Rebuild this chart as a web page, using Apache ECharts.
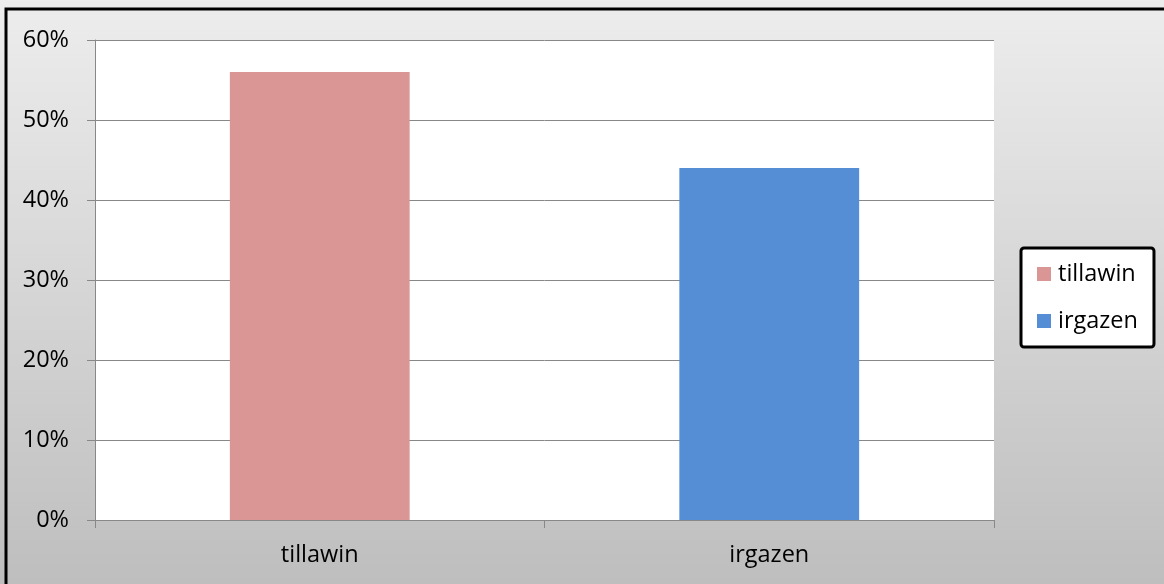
<!DOCTYPE html>
<html>
<head>
<meta charset="utf-8">
<script src="https://cdn.jsdelivr.net/npm/echarts@6/dist/echarts.min.js"></script>
<style>html,body{margin:0;padding:0;}#c{width:1164px;height:584px;}</style>
</head>
<body>
<div id="c"></div>
<script>
const categories = ['tillawin', 'irgazen'];
const seriesNames = ['tillawin', 'irgazen'];
const tillawinValues = [56, '-'];
const irgazenValues = ['-', 44];
const yTicks = { min: 0, max: 60, interval: 10 };

const chart = echarts.init(document.getElementById('c'));
const font = 'Open Sans';
const fs = 23.5;
chart.setOption({
  backgroundColor: {
    type: 'linear', x: 0, y: 0, x2: 0, y2: 1,
    colorStops: [{ offset: 0, color: '#ededed' }, { offset: 1, color: '#bebebe' }]
  },
  animation: false,
  graphic: [{
    type: 'rect', shape: { x: 6, y: 9, width: 1300, height: 800 },
    style: { fill: 'none', stroke: '#000', lineWidth: 3 }, z: 100
  }],
  grid: { left: 95, right: 170, top: 40, bottom: 64, backgroundColor: '#fff', show: true, borderWidth: 0 },
  legend: {
    orient: 'vertical', left: 1021, top: 248,
    data: seriesNames,
    backgroundColor: '#fff', borderColor: '#000', borderWidth: 3, borderRadius: 3,
    padding: [14, 16], itemGap: 23, itemWidth: 14, itemHeight: 14,
    icon: 'rect', itemStyle: { borderWidth: 0 },
    textStyle: { fontFamily: font, fontSize: fs, color: '#000', padding: [0, 0, 0, 2] }
  },
  xAxis: {
    type: 'category', data: categories,
    axisLine: { lineStyle: { color: '#888', width: 1 } },
    axisTick: { show: true, length: 8, lineStyle: { color: '#888' }, alignWithLabel: false },
    axisLabel: { fontFamily: font, fontSize: fs, color: '#000', margin: 23 }
  },
  yAxis: {
    type: 'value', min: yTicks.min, max: yTicks.max, interval: yTicks.interval,
    axisLine: { show: true, lineStyle: { color: '#888', width: 1 } },
    axisTick: { show: true, length: 8, lineStyle: { color: '#888' } },
    splitLine: { lineStyle: { color: '#888', width: 1 } },
    axisLabel: { formatter: '{value}%', fontFamily: font, fontSize: fs, color: '#000', margin: 26 }
  },
  series: [
    { name: seriesNames[0], type: 'bar', data: tillawinValues, barWidth: '40%', barGap: '-100%',
      itemStyle: { color: '#d99694' } },
    { name: seriesNames[1], type: 'bar', data: irgazenValues, barWidth: '40%', barGap: '-100%',
      itemStyle: { color: '#558ed5' } }
  ]
});
</script>
</body>
</html>
